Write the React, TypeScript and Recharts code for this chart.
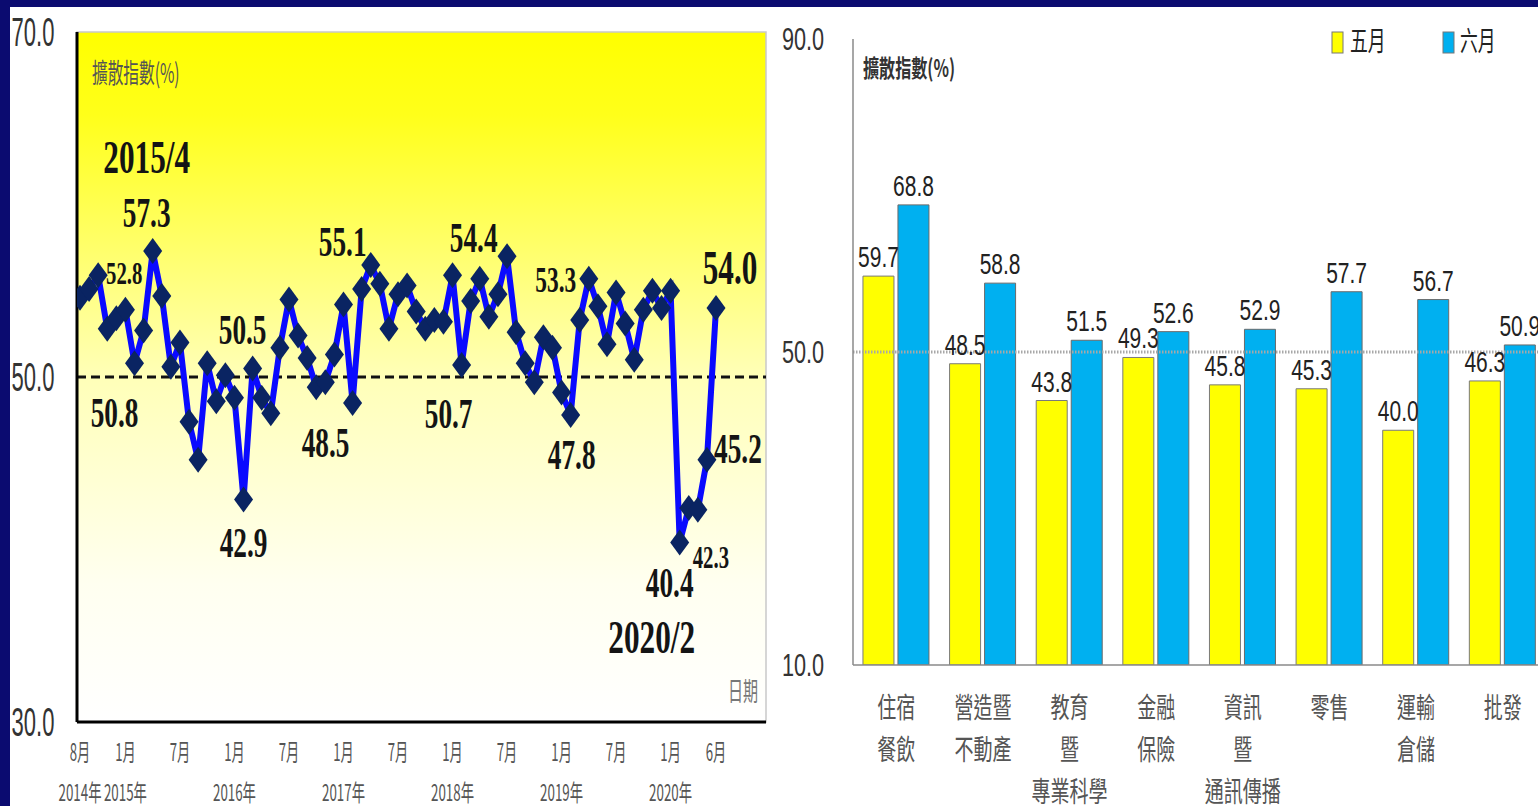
import React from 'react';
import {
  LineChart, Line, XAxis, YAxis, ReferenceLine, ReferenceArea,
  BarChart, Bar, LabelList, Legend,
} from 'recharts';

const NAVY = '#0b0b70';
const SERIF = '"Liberation Serif", "DejaVu Serif", serif';
const SANS = '"Liberation Sans", Arial, sans-serif';
const CJK = '"Noto Sans CJK TC", "Noto Sans CJK SC", sans-serif';

// ---- left: 擴散指數, monthly 2014/8 .. 2020/6 ----
const diffusionIndex = [
  54.6, 55.1, 55.9, 52.8, 53.4, // 2014/8-12
  53.9, 50.8, 52.7, 57.3, 54.7, 50.6, 52.0, 47.4, 45.2, 50.8, 48.6, 50.1, // 2015
  48.8, 42.9, 50.5, 48.8, 47.9, 51.7, 54.5, 52.4, 51.1, 49.4, 49.7, 51.3, // 2016
  54.2, 48.5, 55.1, 56.5, 55.4, 52.8, 54.8, 55.3, 53.8, 52.8, 53.3, 53.2, // 2017
  55.9, 50.7, 54.4, 55.7, 53.5, 54.8, 57.0, 52.6, 50.8, 49.7, 52.3, 51.7, // 2018
  49.1, 47.8, 53.3, 55.7, 54.1, 51.9, 54.9, 53.1, 51.0, 53.9, 55.0, 54.0, // 2019
  55.0, 40.4, 42.4, 42.3, 45.2, 54.0, // 2020/1-6
];
const monthTickIdx = [0, 5, 11, 17, 23, 29, 35, 41, 47, 53, 59, 65, 70];
const monthTickText = ['8月', '1月', '7月', '1月', '7月', '1月', '7月', '1月', '7月', '1月', '7月', '1月', '6月'];
const yearTickText = ['2014年', '2015年', '', '2016年', '', '2017年', '', '2018年', '', '2019年', '', '2020年', ''];
const calloutIdx = [3, 6, 8, 18, 19, 30, 31, 42, 43, 54, 55, 66, 68, 69, 70];
const dateTags: Record<number, string> = { 8: '2015/4', 66: '2020/2' };

// ---- right: by industry ----
const industries = [
  ['住宿', '餐飲'], ['營造暨', '不動產'], ['教育', '暨', '專業科學'], ['金融', '保險'],
  ['資訊', '暨', '通訊傳播'], ['零售'], ['運輸', '倉儲'], ['批發'],
];
const mayValues = [59.7, 48.5, 43.8, 49.3, 45.8, 45.3, 40.0, 46.3];
const juneValues = [68.8, 58.8, 51.5, 52.6, 52.9, 57.7, 56.7, 50.9];
const monthSeries = ['五月', '六月'];
const seriesColors = ['#ffff00', '#00b0f0'];

// callout text placement: [dx, dy, fontSize] from the point
const calloutStyle: Record<number, [number, number, number]> = {
  3: [17, -56, 32], 6: [-20, 50, 42], 8: [-6, -38, 42], 18: [0, 43, 42],
  19: [-10, -39, 42], 30: [-27, 40, 42], 31: [-19, -47, 42], 42: [-13, 49, 42],
  43: [3, -63, 42], 54: [1, 40, 42], 55: [-24, -40, 36], 66: [-10, 40, 42],
  68: [13, 47, 32], 69: [31, -11, 42], 70: [14, -40, 48],
};
const dateTagStyle: Record<number, [number, number, number]> = { 8: [-6, -94, 46], 66: [-28, 95, 46] };

const X_MIN = -0.33;
const X_MAX = 75.5;

const lineData = diffusionIndex.map((v, i) => ({ i, v }));
const barData = industries.map((lines, k) => ({ name: lines.join(''), may: mayValues[k], june: juneValues[k] }));

function SqText({ x, y, sx, fs, fill, family, weight, anchor = 'middle', children }: any) {
  return (
    <text transform={`translate(${x},${y}) scale(${sx},1)`} fontSize={fs} fill={fill}
      fontFamily={family} fontWeight={weight} textAnchor={anchor}>
      {children}
    </text>
  );
}

const LeftYTick = (p: any) => (
  <SqText x={p.x - 44} y={p.y + 14} sx={0.55} fs={40} fill="#333" family={SANS}>
    {Number(p.payload.value).toFixed(1)}
  </SqText>
);

const LeftXTick = (p: any) => {
  const k = monthTickIdx.indexOf(p.payload.value);
  if (k < 0) return <g />;
  return (
    <g>
      <SqText x={p.x} y={p.y + 39} sx={0.55} fs={24} fill="#555" family={CJK}>{monthTickText[k]}</SqText>
      {yearTickText[k] && (
        <SqText x={p.x} y={p.y + 79} sx={0.58} fs={23} fill="#555" family={CJK}>{yearTickText[k]}</SqText>
      )}
    </g>
  );
};

const renderDiamond = (p: any) => {
  const { cx, cy, index } = p;
  if (cx == null || cy == null) return <g key={`d${index}`} />;
  return (
    <polygon key={`d${index}`} fill="#0a2462"
      points={`${cx},${cy - 13} ${cx + 9.5},${cy} ${cx},${cy + 13} ${cx - 9.5},${cy}`} />
  );
};

const renderCallout = (p: any) => {
  const { cx, cy, index } = p;
  const st = calloutStyle[index];
  if (cx == null || !calloutIdx.includes(index) || !st) return <g key={`c${index}`} />;
  const [dx, dy, fs] = st;
  const tag = dateTags[index];
  const ts = dateTagStyle[index];
  return (
    <g key={`c${index}`}>
      <SqText x={cx + dx} y={cy + dy + 0.34 * fs} sx={0.65} fs={fs} fill="#141414" family={SERIF} weight="bold">
        {diffusionIndex[index].toFixed(1)}
      </SqText>
      {tag && ts && (
        <SqText x={cx + ts[0]} y={cy + ts[1] + 0.34 * ts[2]} sx={0.68} fs={ts[2]} fill="#141414" family={SERIF} weight="bold">
          {tag}
        </SqText>
      )}
    </g>
  );
};

const RightYTick = (p: any) => (
  <SqText x={p.x - 50} y={p.y + 11} sx={0.7} fs={31} fill="#333" family={SANS}>
    {Number(p.payload.value).toFixed(1)}
  </SqText>
);

const CatTick = (p: any) => {
  const k = industries.findIndex((l) => l.join('') === p.payload.value);
  const lines = k >= 0 ? industries[k] : [String(p.payload.value)];
  return (
    <g>
      {lines.map((t, j) => (
        <SqText key={j} x={p.x} y={p.y + 53 + j * 42} sx={0.68} fs={28} fill="#555" family={CJK}>{t}</SqText>
      ))}
    </g>
  );
};

const BarValue = (p: any) => {
  const vb = p.viewBox && p.viewBox.width != null ? p.viewBox : p;
  if (vb.x == null || p.value == null) return null;
  return (
    <SqText x={vb.x + vb.width / 2} y={vb.y - 9} sx={0.7} fs={30} fill="#222" family={SANS}>
      {Number(p.value).toFixed(1)}
    </SqText>
  );
};

const LegendBox = () => (
  <svg width={200} height={46} style={{ overflow: 'visible' }}>
    {monthSeries.map((n, k) => (
      <g key={n}>
        <rect x={7 + k * 111} y={14} width={11} height={21} fill={seriesColors[k]} stroke="#777" strokeWidth={1} />
        <SqText x={25 + k * 110} y={33} sx={0.66} fs={27} fill="#222" family={CJK} anchor="start">{n}</SqText>
      </g>
    ))}
  </svg>
);

const overlayText = (extra: React.CSSProperties): React.CSSProperties => ({
  position: 'absolute', lineHeight: 1.2, whiteSpace: 'nowrap', fontFamily: CJK,
  transformOrigin: 'left top', ...extra,
});

export default function App() {
  return (
    <div style={{ position: 'fixed', left: 0, top: 0, width: 1538, height: 806, overflow: 'hidden', background: NAVY }}>
      <div style={{ position: 'absolute', left: 10, top: 7, width: 1528, height: 799, background: '#fff' }} />

      <div style={{ position: 'absolute', left: 0, top: 0 }}>
        <LineChart width={775} height={806} data={lineData} margin={{ top: 32, right: 9, bottom: 0, left: 10 }}>
          <defs>
            <linearGradient id="plotBg" x1="0" y1="0" x2="0" y2="1">
              <stop offset="0%" stopColor="#ffff00" />
              <stop offset="12%" stopColor="#ffff1a" />
              <stop offset="50%" stopColor="#ffffb8" />
              <stop offset="80%" stopColor="#fffff0" />
              <stop offset="100%" stopColor="#ffffff" />
            </linearGradient>
          </defs>
          <ReferenceArea x1={X_MIN} x2={X_MAX} y1={30} y2={70} fill="url(#plotBg)" fillOpacity={1}
            stroke="#c9c9c9" strokeWidth={1.5} ifOverflow="visible" />
          <XAxis type="number" dataKey="i" domain={[X_MIN, X_MAX]} allowDataOverflow ticks={monthTickIdx}
            interval={0} tick={LeftXTick} tickLine={false} tickSize={0} tickMargin={0} height={84}
            axisLine={{ stroke: '#000', strokeWidth: 3 }} />
          <YAxis domain={[30, 70]} ticks={[30, 50, 70]} allowDataOverflow interval={0} width={67}
            tick={LeftYTick} tickLine={false} tickSize={0} tickMargin={0}
            axisLine={{ stroke: '#000', strokeWidth: 3 }} />
          <ReferenceLine y={50} stroke="#111" strokeWidth={3} strokeDasharray="9 5" />
          <Line type="linear" dataKey="v" stroke="#0a0aff" strokeWidth={6} dot={renderDiamond}
            activeDot={false} isAnimationActive={false} />
          <Line type="linear" dataKey="v" stroke="none" dot={renderCallout}
            activeDot={false} isAnimationActive={false} />
        </LineChart>
      </div>

      <div style={overlayText({ left: 92, top: 56, fontSize: 27, color: '#555', transform: 'scaleX(0.58)' })}>擴散指數(%)</div>
      <div style={overlayText({ left: 728, top: 674, fontSize: 26, color: '#777', transform: 'scaleX(0.58)' })}>日期</div>

      <div style={{ position: 'absolute', left: 770, top: 0 }}>
        <BarChart width={780} height={806} data={barData} margin={{ top: 39, right: 4, bottom: 0, left: 10 }}
          barCategoryGap="11.5%" barGap={4}>
          <XAxis dataKey="name" height={141} interval={0} tickLine={false} tickSize={0} tickMargin={0}
            axisLine={{ stroke: '#8a8a8a', strokeWidth: 1.5 }} tick={CatTick} />
          <YAxis domain={[10, 90]} ticks={[10, 50, 90]} allowDataOverflow interval={0} width={73}
            tickLine={false} tickSize={0} tickMargin={0} axisLine={{ stroke: '#8a8a8a', strokeWidth: 1.5 }}
            tick={RightYTick} />
          <Legend verticalAlign="middle" align="center" layout="horizontal"
            wrapperStyle={{ top: 18, left: 555, width: 200, height: 46 }} content={LegendBox} />
          <Bar dataKey="may" name={monthSeries[0]} fill={seriesColors[0]} stroke="#7a7a7a" strokeWidth={1}
            isAnimationActive={false}>
            <LabelList dataKey="may" content={BarValue} />
          </Bar>
          <Bar dataKey="june" name={monthSeries[1]} fill={seriesColors[1]} stroke="#6a6a6a" strokeWidth={1}
            isAnimationActive={false}>
            <LabelList dataKey="june" content={BarValue} />
          </Bar>
          <ReferenceLine y={50} stroke="#a8a8a8" strokeWidth={3} strokeDasharray="1.5 1.5" />
        </BarChart>
      </div>

      <div style={overlayText({ left: 863, top: 53, fontSize: 24, color: '#333', fontWeight: 700, transform: 'scaleX(0.67)' })}>擴散指數(%)</div>
    </div>
  );
}
